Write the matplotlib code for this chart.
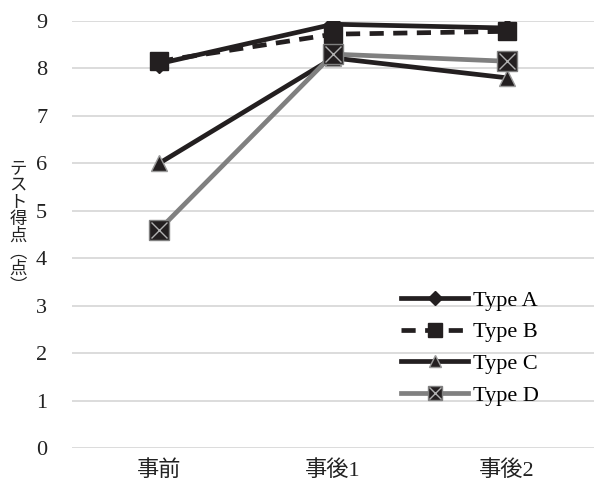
import matplotlib.pyplot as plt
from matplotlib.legend_handler import HandlerTuple

plt.rcParams['font.family'] = ['Liberation Serif', 'Noto Sans CJK JP']

stages = ['事前', '事後1', '事後2']
type_a = [8.10, 8.93, 8.85]
type_b = [8.15, 8.72, 8.78]
type_c = [6.00, 8.22, 7.80]
type_d = [4.60, 8.30, 8.15]
yticks = list(range(0, 10))

black = '#231f20'
grey = '#808080'

fig = plt.figure(figsize=(5.97, 4.86), dpi=100)
ax = fig.add_axes([0.121, 0.078, 0.874, 0.879])

la, = ax.plot(stages, type_a, color=black, lw=3.4, marker='D', ms=9,
              mfc=black, mec=black, label='Type A', zorder=3)
lb, = ax.plot(stages, type_b, color=black, lw=3.4, ls=(0, (3, 2)), marker='s', ms=13,
              mfc=black, mec=black, label='Type B', zorder=4)
lc, = ax.plot(stages, type_c, color=black, lw=3.4, marker='^', ms=12,
              mfc=black, mec='#9a9a9a', mew=1, label='Type C', zorder=5)
ld, = ax.plot(stages, type_d, color=grey, lw=3.4, marker='s', ms=14,
              mfc=black, mec=grey, mew=1, label='Type D', zorder=6)
ldx, = ax.plot(stages, type_d, ls='none', marker='x', ms=12, mec='#b0b0b0', mew=1,
               zorder=7)

ax.set_ylim(0, 9)
ax.set_xlim(-0.5, 2.5)
ax.set_yticks(yticks)
ax.grid(axis='y', color='#d9d9d9', lw=1.3)
ax.set_axisbelow(True)
for s in ax.spines.values():
    s.set_visible(False)
ax.tick_params(length=0, labelsize=16, colors='#222222')
ax.tick_params(axis='y', pad=18)
ax.tick_params(axis='x', pad=9)

fig.text(0.03, 0.533, 'テ\nス\nト\n得\n点\n︵\n点\n︶', ha='center', va='center',
         fontsize=12.5, linespacing=0.92, color='#222222',
         family=['Noto Sans CJK JP'])

ax.legend([la, lb, lc, (ld, ldx)], ['Type A', 'Type B', 'Type C', 'Type D'],
          handler_map={tuple: HandlerTuple(ndivide=1, pad=0)},
          loc='lower left', bbox_to_anchor=(0.672, 0.165), bbox_transform=fig.transFigure,
          frameon=False, fontsize=16, handlelength=3.0, handletextpad=0.25,
          labelspacing=0.5, borderpad=0, borderaxespad=0, markerscale=0.75)

fig.savefig('out.png', dpi=100)
